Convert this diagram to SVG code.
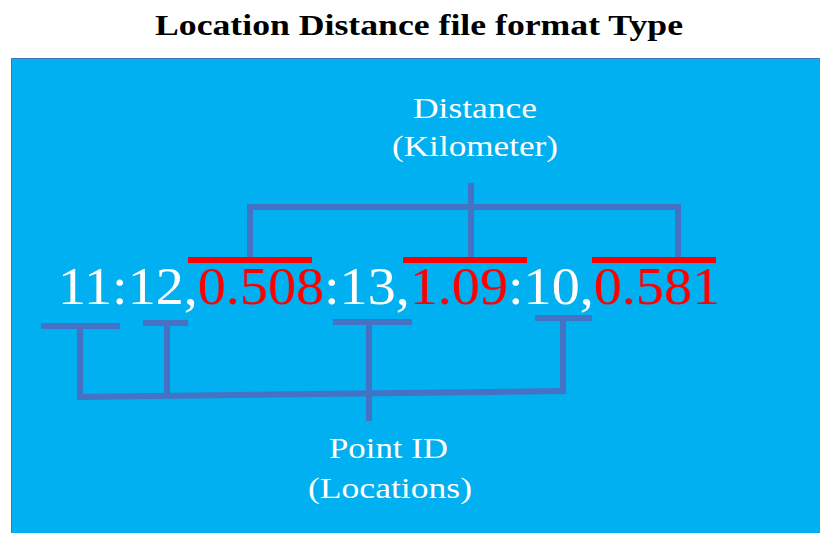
<svg xmlns="http://www.w3.org/2000/svg" width="820" height="533" viewBox="0 0 820 533">
<style>
.conn{stroke:#4472C4;stroke-width:6;fill:none;stroke-linecap:butt}
.red{stroke:#FF0000;stroke-width:6}
.lbl{font-family:'Liberation Serif','Times New Roman',serif;fill:#FFFFFF}
</style>
<rect width="820" height="533" fill="#FFFFFF"/>
<text x="155" y="35" style="font-family:'Liberation Serif','Times New Roman',serif" font-weight="bold" font-size="29" fill="#000000" textLength="528" lengthAdjust="spacingAndGlyphs">Location Distance file format Type</text>
<rect id="panel" x="11.5" y="58.5" width="810" height="476" fill="#00B0F0" stroke="#4472C4" stroke-width="1"/>
<g id="connectors">
<polyline class="conn" points="250,257 250,207 678,207 678,257"/>
<line class="conn" x1="471" y1="183" x2="471" y2="257"/>
<line class="red" x1="188" y1="260" x2="312" y2="260"/>
<line class="red" x1="403" y1="260" x2="527" y2="260"/>
<line class="red" x1="592" y1="260" x2="716" y2="260"/>
<line class="conn" x1="41" y1="326" x2="120" y2="326"/>
<line class="conn" x1="143" y1="323" x2="188" y2="323"/>
<line class="conn" x1="333" y1="322" x2="412" y2="322"/>
<line class="conn" x1="535" y1="318" x2="592" y2="318"/>
<line class="conn" x1="80" y1="326" x2="80" y2="397"/>
<line class="conn" x1="167" y1="323" x2="167" y2="395"/>
<line class="conn" x1="369" y1="322" x2="369" y2="421"/>
<line class="conn" x1="563" y1="318" x2="563" y2="391"/>
<line class="conn" x1="77" y1="397" x2="566" y2="391"/>
</g>
<g id="record">
<text class="lbl" x="58" y="304" font-size="53" textLength="662" lengthAdjust="spacingAndGlyphs">11:12,<tspan fill="#FF0000">0.508</tspan>:13,<tspan fill="#FF0000">1.09</tspan>:10,<tspan fill="#FF0000">0.581</tspan></text>
</g>
<g id="distance">
<text class="lbl" x="413" y="118" font-size="30" textLength="124" lengthAdjust="spacingAndGlyphs">Distance</text>
<text class="lbl" x="392" y="156" font-size="30" textLength="166" lengthAdjust="spacingAndGlyphs">(Kilometer)</text>
</g>
<g id="pointid">
<text class="lbl" x="329" y="458" font-size="30" textLength="119" lengthAdjust="spacingAndGlyphs">Point ID</text>
<text class="lbl" x="308" y="498" font-size="30" textLength="164" lengthAdjust="spacingAndGlyphs">(Locations)</text>
</g>
</svg>
